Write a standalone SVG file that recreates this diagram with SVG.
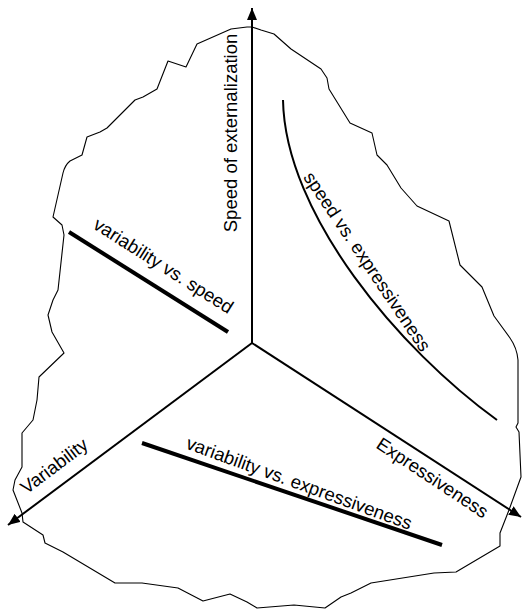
<svg xmlns="http://www.w3.org/2000/svg" width="523" height="609" viewBox="0 0 523 609">
<style>
.outline{fill:none;stroke:#000;stroke-width:1.1;stroke-linejoin:round}
.axis{fill:none;stroke:#000;stroke-width:2}
.thick{fill:none;stroke:#000;stroke-width:4}
.curve{fill:none;stroke:#000;stroke-width:2}
text{font-family:"Liberation Sans",Arial,sans-serif;font-size:18.5px;fill:#000}
</style>
<defs>
<marker id="arrow" viewBox="0 0 12 10" refX="12" refY="5" markerWidth="12" markerHeight="10" markerUnits="userSpaceOnUse" orient="auto">
<path d="M0,0 L12,5 L0,10 z" fill="#000"/>
</marker>
</defs>
<g id="outline">
<path class="outline" d="M252,27 L261,30 L274,34 L291,49 L321,69 L327,78 L329,89 L350,123 L372,133 L377,155 L387,165 L401,188 L417,206 L449,221 L460,265 L482,287 L494,316 L510,338 Q517,348 518,360 L518,423 L516,427 L519,432 L521,477 L509,510 L500,533 L500,546 L456,572 L434,573 L371,583 L367,585 L351,593 L341,597 L325,608 L294,605 L257,608 L247,602 L230,594 L203,601 L178,588 L142,583 L115,583 L63,552 L45,543 L43,535 L23,522 L22,513 L13,490 L15,480 L22,467 L22,433 L33,420 L37,400 L39,377 L64,353 L52,332 L48,315 L53,300 L58,290 L64,235 L62,225 L53,217 L63,173 Q65,165 70,161 L82,155 L87,137 L100,132 L107,128 L135,100 L143,97 L157,89 L168,61 L186,67 L197,44 L231,29 L247,27 Z"/>
</g>
<g id="connectors">
<line class="axis" x1="252" y1="343" x2="252" y2="8" marker-end="url(#arrow)"/>
<line class="axis" x1="252" y1="343" x2="8" y2="525" marker-end="url(#arrow)"/>
<line class="axis" x1="252" y1="343" x2="521" y2="517" marker-end="url(#arrow)"/>
<line class="thick" x1="69" y1="232" x2="228" y2="332"/>
<line class="thick" x1="142" y1="443" x2="442" y2="545"/>
<path class="curve" d="M283,100 C285,215 400,350 497,420"/>
</g>
<g id="labels">
<text id="speed-axis" transform="translate(237,133) rotate(-90)" text-anchor="middle">Speed of externalization</text>
<text id="variability-axis" transform="translate(58,471) rotate(-37)" text-anchor="middle">Variability</text>
<text id="expressiveness-axis" transform="translate(429,483) rotate(33.5)" text-anchor="middle">Expressiveness</text>
<text id="var-speed" transform="translate(160,271) rotate(32.5)" text-anchor="middle">variability vs. speed</text>
<text id="speed-expr" transform="translate(362,265) rotate(56)" text-anchor="middle">speed vs. expressiveness</text>
<text id="var-expr" transform="translate(297,489) rotate(20)" text-anchor="middle">variability vs. expressiveness</text>
</g>
</svg>
